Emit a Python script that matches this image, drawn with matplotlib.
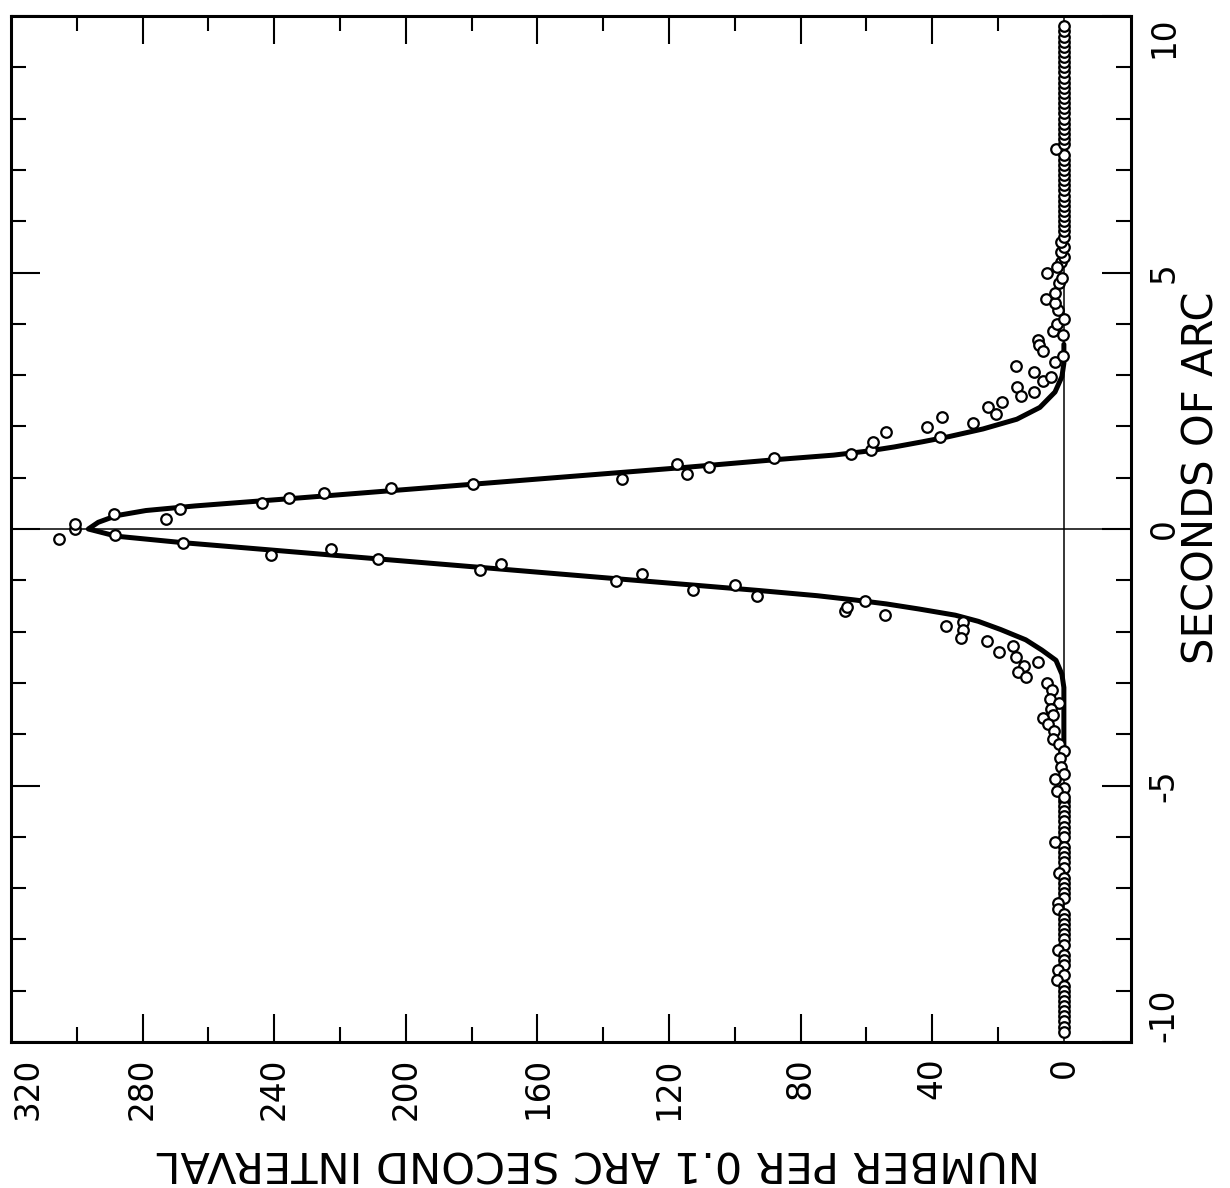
import matplotlib
matplotlib.use("Agg")
import matplotlib.pyplot as plt

plt.rcParams['font.family'] = ['DejaVu Sans']

# ---------------- data ----------------
# central part of the profile (seconds of arc, number per 0.1" interval)
core_sec = [-0.19, 0.00, -0.12, -0.28, -0.50, -0.39, -0.58, -0.80, -0.68, -1.01,
            -0.88, -1.19, -1.09, -1.30, -1.60, -1.52, -1.40, -1.68, -1.90, -1.81,
            -1.97, -2.12, -2.18, -2.39, -2.28, -2.49, -2.67, -2.79, -2.89, -2.60,
            -3.00, -3.13, -3.31, -3.40, -3.50, -3.63, -3.69, -3.80, -3.93, -4.10,
            -4.20, -4.32, -4.47, -4.63, -4.77, -4.87, -5.04, -5.10, -5.23,
            0.10, 0.29, 0.19, 0.39, 0.50, 0.61, 0.70, 0.79, 0.87, 0.97,
            1.26, 1.08, 1.20, 1.38, 1.46, 1.54, 1.70, 1.89, 1.98, 1.79,
            2.18, 2.07, 2.37, 2.25, 2.48, 3.18, 2.77, 2.59, 3.06, 2.67,
            2.88, 2.97, 3.25, 3.37, 3.68, 3.58, 3.47, 3.85, 3.78, 3.99,
            4.09, 4.26, 4.49, 4.40, 4.60, 4.80, 4.90, 5.00, 5.10]
core_count = [305.5, 300.6, 288.3, 267.8, 241.0, 222.8, 208.5, 177.5, 171.1, 136.0,
              128.3, 112.8, 100.0, 93.3, 66.6, 66.0, 60.5, 54.4, 35.9, 30.7,
              30.7, 31.3, 23.4, 19.8, 15.5, 14.6, 12.2, 14.0, 11.6, 7.9,
              5.2, 3.6, 4.3, 1.5, 4.0, 3.3, 6.4, 4.9, 3.0, 3.3,
              1.5, 0.0, 1.2, 0.9, 0.0, 2.7, 0.0, 2.1, 0.0,
              300.6, 288.8, 272.9, 268.7, 243.8, 235.4, 224.9, 204.6, 179.6, 134.3,
              117.6, 114.6, 107.9, 88.1, 64.7, 58.7, 58.1, 54.1, 41.6, 37.7,
              37.1, 27.7, 23.1, 20.7, 18.8, 14.6, 14.3, 13.1, 9.1, 9.1,
              6.4, 4.0, 2.7, 0.3, 7.9, 7.6, 6.4, 3.3, 0.3, 2.1,
              0.0, 1.8, 5.5, 2.7, 2.7, 1.5, 0.6, 5.2, 2.1]

# outer wings
tail_up_sec = [5.2, 5.3, 5.4, 5.5, 5.6, 5.7, 5.8, 5.9, 6.0, 6.1,
               6.2, 6.3, 6.4, 6.5, 6.6, 6.7, 6.8, 6.9, 7.0, 7.1,
               7.2, 7.3, 7.4, 7.5, 7.6, 7.7, 7.8, 7.9, 8.0, 8.1,
               8.2, 8.3, 8.4, 8.5, 8.6, 8.7, 8.8, 8.9, 9.0, 9.1,
               9.2, 9.3, 9.4, 9.5, 9.6, 9.7, 9.8]
tail_up_count = [1, 0, 1, 0, 1, 0, 0, 0, 0, 0,
                 0, 0, 0, 0, 0, 0, 0, 0, 0, 0,
                 0, 0, 2.5, 0, 0, 0, 0, 0, 0, 0,
                 0, 0, 0, 0, 0, 0, 0, 0, 0, 0,
                 0, 0, 0, 0, 0, 0, 0]
tail_low_sec = [-5.3, -5.4, -5.5, -5.6, -5.7, -5.8, -5.9, -6.0, -6.1, -6.2,
                -6.3, -6.4, -6.5, -6.6, -6.7, -6.8, -6.9, -7.0, -7.1, -7.2,
                -7.3, -7.4, -7.5, -7.6, -7.7, -7.8, -7.9, -8.0, -8.1, -8.2,
                -8.3, -8.4, -8.5, -8.6, -8.7, -8.8, -8.9, -9.0, -9.1, -9.2,
                -9.3, -9.4, -9.5, -9.6, -9.7, -9.8]
tail_low_count = [0, 0, 0, 0, 0, 0, 0, 0, 2.7, 0,
                  0, 0, 0, 0, 1.5, 0, 0, 0, 0, 0,
                  1.8, 1.8, 0, 0, 0, 0, 0, 0, 0, 1.8,
                  0, 0, 0, 1.8, 0, 2.0, 0, 0, 0, 0,
                  0, 0, 0, 0, 0, 0]

# fitted profile
curve_sec = [-4.30, -3.09, -2.83, -2.56, -2.36, -2.16, -1.96, -1.80, -1.68, -1.56,
             -1.46, -1.38, -1.30, -1.20, -1.00, -0.75, -0.50, -0.265, -0.14, 0.00,
             0.13, 0.26, 0.36, 0.45, 0.60, 0.80, 1.00, 1.20, 1.36, 1.44,
             1.52, 1.60, 1.70, 1.80, 1.95, 2.14, 2.37, 2.67, 2.97, 3.23, 3.60]
curve_count = [0, 0, 0.6, 2.4, 6.7, 11.6, 19.2, 26, 33, 44,
               54, 64, 75, 92.5, 130.2, 177, 224, 268, 288, 296.5,
               293.5, 288, 279, 264, 233.5, 194, 154.7, 115.3, 86, 70,
               59.5, 51.5, 43, 35, 24.6, 14.3, 7.3, 2.7, 0.6, 0, 0]

count_ticks = [320, 280, 240, 200, 160, 120, 80, 40, 0]
count_tick_labels = ["320", "280", "240", "200", "160", "120", "80", "40", "0"]
count_minor = [300, 260, 220, 180, 140, 100, 60, 20]
sec_ticks = [-10, -5, 0, 5, 10]
sec_tick_labels = ["-10", "-5", "0", "5", "10"]
sec_minor = [-9, -8, -7, -6, -4, -3, -2, -1, 1, 2, 3, 4, 6, 7, 8, 9]

# ---------------- figure ----------------
fig = plt.figure(figsize=(12.30, 11.88), dpi=100)
ax = fig.add_axes([11 / 1230, 1 - 1042 / 1188, 1120 / 1230, 1026 / 1188])

ax.set_xlim(320, -20.4)
ax.set_ylim(-10, 10)

ax.axhline(0, color='black', lw=1.1, zorder=1)
ax.axvline(0, color='black', lw=1.1, zorder=1)

ax.plot(curve_count, curve_sec, color='black', lw=3.6, solid_capstyle='round',
        solid_joinstyle='round', zorder=2)

mk = dict(ls='none', marker='o', ms=7.6, mfc='white', mec='black', mew=1.6, zorder=3)
ax.plot(tail_up_count, tail_up_sec, **mk)
ax.plot(tail_low_count, tail_low_sec, **mk)
ax.plot(core_count, core_sec, **mk)

for sp in ax.spines.values():
    sp.set_linewidth(2.2)

ax.set_xticks(count_ticks)
ax.set_xticklabels(count_tick_labels)
ax.set_xticks(count_minor, minor=True)
ax.set_yticks(sec_ticks)
ax.set_yticklabels(sec_tick_labels)
ax.set_yticks(sec_minor, minor=True)

ax.tick_params(axis='x', which='major', direction='in', length=20, width=1.5,
               top=True, bottom=True, labelsize=23.5, pad=11, labelrotation=90)
ax.tick_params(axis='x', which='minor', direction='in', length=11, width=1.5,
               top=True, bottom=True)
ax.tick_params(axis='y', which='major', direction='in', length=21, width=1.5,
               left=True, right=True, labelleft=False, labelright=True,
               labelsize=23.5, pad=12, labelrotation=90)
ax.tick_params(axis='y', which='minor', direction='in', length=10.5, width=1.5,
               left=True, right=True)

# no tick marks drawn at 0 and 320 counts
for i in (0, len(count_ticks) - 1):
    t = ax.xaxis.get_major_ticks()[i]
    t.tick1line.set_visible(False)
    t.tick2line.set_visible(False)

for lab in ax.get_xticklabels():
    lab.set_va('top')
    lab.set_ha('center')
xl = ax.get_xticklabels()
xl[0].set_ha('left')

for lab in ax.get_yticklabels():
    lab.set_va('center')
    lab.set_ha('left')
yl = ax.get_yticklabels()
yl[0].set_va('bottom')
yl[-1].set_va('top')

ax.set_xlabel("NUMBER PER 0.1 ARC SECOND INTERVAL", fontsize=31, rotation=180)
ax.xaxis.set_label_coords(0.524, -0.117)
ax.xaxis.label.set_va('center')
ax.xaxis.label.set_ha('center')

ax.yaxis.set_label_position('right')
ax.set_ylabel("SECONDS OF ARC", fontsize=30, rotation=90)
ax.yaxis.set_label_coords(1.063, 0.55)
ax.yaxis.label.set_va('center')
ax.yaxis.label.set_ha('center')

fig.savefig("out.png", dpi=100, facecolor='white')
